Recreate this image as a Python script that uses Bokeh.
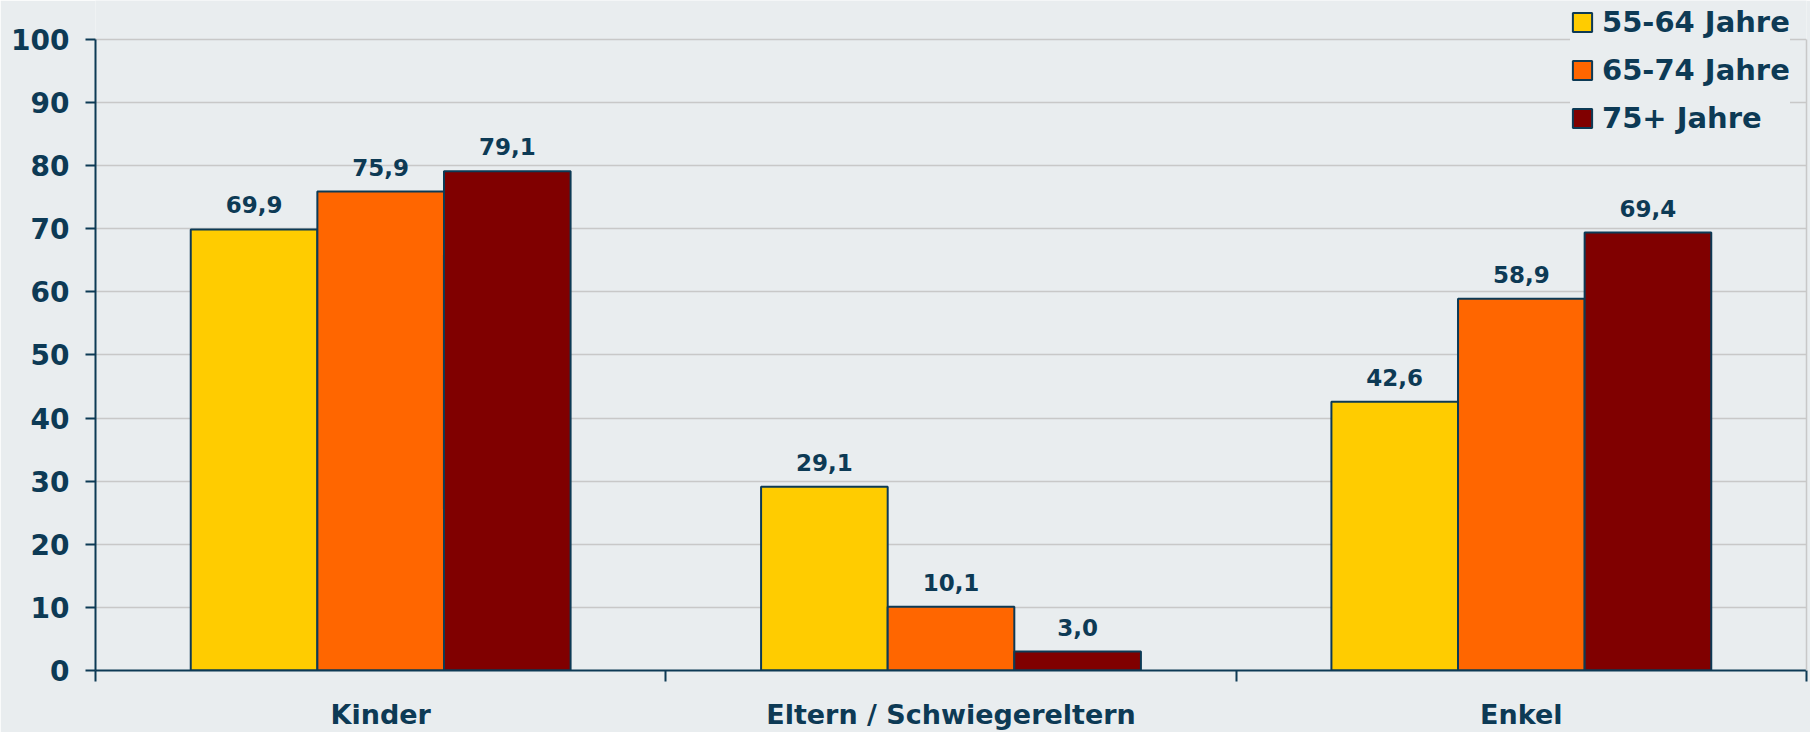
from bokeh.plotting import figure
from bokeh.models import ColumnDataSource, Range1d, LabelSet, Legend, LegendItem, FixedTicker, LinearAxis
from bokeh.core.properties import value
from bokeh.embed import file_html
from bokeh.resources import INLINE

categories = ["Kinder", "Eltern / Schwiegereltern", "Enkel"]
series_names = ["55-64 Jahre", "65-74 Jahre", "75+ Jahre"]
v_55_64 = [69.9, 29.1, 42.6]
v_65_74 = [75.9, 10.1, 58.9]
v_75plus = [79.1, 3.0, 69.4]
y_ticks = [0, 10, 20, 30, 40, 50, 60, 70, 80, 90, 100]

colors = ["#FFCC00", "#FF6600", "#800000"]
navy = "#0D3A55"
grid = "#C8C8C8"
bg = "#E9EDEF"
font = "DejaVu Sans"

def fmt(v):
    return f"{v:.1f}".replace(".", ",")

W, H = 1810, 732
border_bottom = 61
top_gap = 39                       # free space above the 100 line (for the legend)
frame_h = H - border_bottom
y_max = y_ticks[-1]
y_end = y_max * frame_h / (frame_h - top_gap)

centers = [i + 0.5 for i in range(len(categories))]
bw = 0.222
offsets = [-bw, 0.0, bw]
series = [v_55_64, v_65_74, v_75plus]

p = figure(x_range=Range1d(0, len(categories)), y_range=Range1d(0, y_end),
           width=W, height=H, output_backend="svg", toolbar_location=None,
           min_border_left=95, min_border_top=0, min_border_bottom=border_bottom, min_border_right=4)
p.background_fill_color = bg
p.border_fill_color = bg
p.outline_line_color = None

renderers = []
for off, vals, col in zip(offsets, series, colors):
    src = ColumnDataSource(dict(x=[c + off for c in centers], top=vals,
                                lbl=[fmt(v) for v in vals]))
    r = p.vbar(x="x", top="top", width=bw, source=src,
               fill_color=col, line_color=navy, line_width=2)
    renderers.append(r)
    lbl = LabelSet(x="x", y="top", text="lbl", source=src,
                   text_align="center", text_baseline="alphabetic", y_offset=16,
                   text_font=value(font), text_font_style="bold", text_font_size="23px",
                   text_color=navy)
    p.add_layout(lbl)

p.xgrid.grid_line_color = None
p.ygrid.grid_line_color = grid
p.ygrid.grid_line_width = 1.5
p.yaxis.ticker = FixedTicker(ticks=y_ticks, minor_ticks=[])
p.yaxis.bounds = (y_ticks[0], y_max)
p.xaxis.ticker = FixedTicker(ticks=centers, minor_ticks=list(range(len(categories) + 1)))
p.xaxis.major_label_overrides = {c: name for c, name in zip(centers, categories)}

for ax in (p.xaxis[0], p.yaxis[0]):
    ax.axis_line_color = navy
    ax.axis_line_width = 2
    ax.major_tick_line_color = navy
    ax.major_tick_line_width = 2
    ax.major_tick_in = 0
    ax.major_label_text_color = navy
    ax.major_label_text_font = font
    ax.major_label_text_font_style = "bold"
p.yaxis.minor_tick_line_color = None
p.yaxis.major_tick_out = 10
p.yaxis.major_label_text_font_size = "28px"
p.yaxis.major_label_standoff = 16
p.xaxis.major_tick_line_color = None
p.xaxis.major_tick_out = 11
p.xaxis.minor_tick_line_color = navy
p.xaxis.minor_tick_line_width = 2
p.xaxis.minor_tick_in = 0
p.xaxis.minor_tick_out = 11
p.xaxis.major_label_text_font_size = "27px"
p.xaxis.major_label_standoff = 17

# right-hand frame line, only up to 100
right_ax = LinearAxis(ticker=FixedTicker(ticks=[], minor_ticks=[]), bounds=(y_ticks[0], y_max),
                      axis_line_color=grid, axis_line_width=1.5,
                      major_tick_line_color=None, minor_tick_line_color=None,
                      major_tick_out=0, minor_tick_out=0, major_label_standoff=0)
p.add_layout(right_ax, "right")

legend = Legend(items=[LegendItem(label=n, renderers=[r]) for n, r in zip(series_names, renderers)],
                location=(1475, 535), orientation="vertical",
                glyph_width=24, glyph_height=24, label_standoff=8, spacing=14,
                padding=10, margin=0, border_line_color=None,
                background_fill_color=bg, background_fill_alpha=1.0,
                label_text_font=font, label_text_font_style="bold",
                label_text_font_size="29px", label_text_color=navy)
p.add_layout(legend)

open("out.html", "w").write(file_html(p, INLINE))
